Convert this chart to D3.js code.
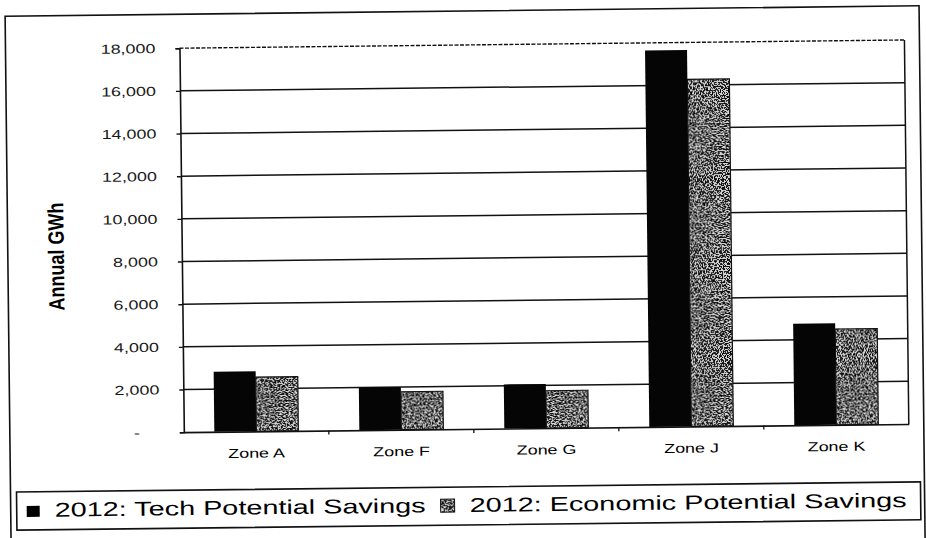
<!DOCTYPE html>
<html>
<head>
<meta charset="utf-8">
<script src="https://cdn.jsdelivr.net/npm/d3@7"></script>
<style>
  html, body { margin: 0; padding: 0; background: #fff; }
  svg { display: block; }
</style>
</head>
<body>
<svg id="chart" width="926" height="538"></svg>
<script>
// Annual GWh savings by zone
const categories = ["Zone A", "Zone F", "Zone G", "Zone J", "Zone K"];
const techSavings = [2820, 2000, 2070, 17650, 4760];
const econSavings = [2540, 1780, 1750, 16270, 4490];
const yTicks = [0, 2000, 4000, 6000, 8000, 10000, 12000, 14000, 16000, 18000];
const yTickLabels = ["-", "2,000", "4,000", "6,000", "8,000", "10,000", "12,000", "14,000", "16,000", "18,000"];
const seriesNames = ["2012: Tech Potential Savings", "2012: Economic Potential Savings"];
const yTitle = "Annual GWh";

const W = 926, H = 538;
const plot = { left: 182, right: 907, top: 45, bottom: 429 };
const WIDEN = 1.38;            // horizontal widening of all type
const FONT = "Liberation Sans, Arial, Helvetica, sans-serif";

// widen each glyph run horizontally, keeping its anchor
function widen(sel, k) {
  sel.each(function () {
    const w = this.getComputedTextLength();
    d3.select(this).attr("textLength", w * k).attr("lengthAdjust", "spacingAndGlyphs");
  });
}

const svg = d3.select("#chart");

// speckled fill for the economic series
const defs = svg.append("defs");
const f = defs.append("filter").attr("id", "speckle")
  .attr("x", 0).attr("y", 0).attr("width", 1).attr("height", 1);
f.append("feTurbulence").attr("type", "fractalNoise")
  .attr("baseFrequency", 0.75).attr("numOctaves", 1).attr("seed", 7).attr("result", "noise");
f.append("feColorMatrix").attr("in", "noise").attr("type", "matrix")
  .attr("values", "0 0 0 0 0  0 0 0 0 0  0 0 0 0 0  1 0 0 0 0").attr("result", "mask");
const ct = f.append("feComponentTransfer").attr("in", "mask").attr("result", "dots");
ct.append("feFuncA").attr("type", "discrete").attr("tableValues", "0 0 0 0 0 0.85 1 1 1 1");
f.append("feComposite").attr("in", "dots").attr("in2", "SourceAlpha").attr("operator", "in");

const g = svg.append("g").attr("transform", `rotate(-0.65 ${W / 2} ${H / 2})`);

// outer page frame
g.append("rect")
  .attr("x", 8).attr("y", 11).attr("width", 914).attr("height", 535)
  .attr("fill", "none").attr("stroke", "#111").attr("stroke-width", 1.6);

const x = d3.scaleBand().domain(categories).range([plot.left, plot.right]);
const bw = x.bandwidth();
const xs = d3.scaleBand().domain([0, 1]).range([bw / 2 - 42, bw / 2 + 42]);
const y = d3.scaleLinear().domain([0, 18000]).range([plot.bottom, plot.top]);

// horizontal grid lines
g.append("g").selectAll("line")
  .data(yTicks.filter(d => d > 0))
  .join("line")
  .attr("x1", plot.left).attr("x2", plot.right)
  .attr("y1", d => y(d)).attr("y2", d => y(d))
  .attr("stroke", "#111")
  .attr("stroke-width", d => d === 18000 ? 1.4 : 1.5)
  .attr("stroke-dasharray", d => d === 18000 ? "4 1.5" : null);

// right border of the plot area
g.append("line")
  .attr("x1", plot.right).attr("x2", plot.right)
  .attr("y1", plot.top).attr("y2", plot.bottom)
  .attr("stroke", "#111").attr("stroke-width", 1.5);

// bars
const groups = g.append("g").selectAll("g")
  .data(categories)
  .join("g")
  .attr("transform", d => `translate(${x(d)},0)`);

groups.append("rect")
  .attr("x", xs(0)).attr("width", xs.bandwidth())
  .attr("y", (d, i) => y(techSavings[i]))
  .attr("height", (d, i) => y(0) - y(techSavings[i]))
  .attr("fill", "#050505");

groups.append("rect")
  .attr("x", xs(1)).attr("width", xs.bandwidth())
  .attr("y", (d, i) => y(econSavings[i]))
  .attr("height", (d, i) => y(0) - y(econSavings[i]))
  .attr("fill", "#d6d6d6");
groups.append("rect")
  .attr("x", xs(1)).attr("width", xs.bandwidth())
  .attr("y", (d, i) => y(econSavings[i]))
  .attr("height", (d, i) => y(0) - y(econSavings[i]))
  .attr("fill", "#000").attr("filter", "url(#speckle)");
groups.append("rect")
  .attr("x", xs(1)).attr("width", xs.bandwidth())
  .attr("y", (d, i) => y(econSavings[i]))
  .attr("height", (d, i) => y(0) - y(econSavings[i]))
  .attr("fill", "none").attr("stroke", "#111").attr("stroke-width", 1.2);

// y axis
const yAxis = g.append("g")
  .attr("transform", `translate(${plot.left},0)`)
  .call(d3.axisLeft(y).tickValues(yTicks)
    .tickFormat((d, i) => yTickLabels[i]).tickSize(4).tickPadding(20));
yAxis.select(".domain").attr("stroke", "#111").attr("stroke-width", 1.6);
yAxis.selectAll(".tick line").attr("stroke", "#111").attr("stroke-width", 1.4);
const yLabels = yAxis.selectAll(".tick text")
  .attr("font-family", FONT)
  .attr("font-size", 13)
  .attr("fill", "#1a1a1a");
yLabels.filter(d => d === 0).attr("dx", -20);
widen(yLabels, WIDEN);

// x axis
const xAxis = g.append("g")
  .attr("transform", `translate(0,${plot.bottom})`)
  .call(d3.axisBottom(x).tickSize(0).tickPadding(17));
xAxis.select(".domain").attr("stroke", "#111").attr("stroke-width", 1.6);
const xLabels = xAxis.selectAll(".tick text")
  .attr("font-family", FONT)
  .attr("font-size", 13)
  .attr("fill", "#000");
widen(xLabels, WIDEN);
g.append("g").selectAll("line")
  .data(categories.slice(1))
  .join("line")
  .attr("x1", d => x(d)).attr("x2", d => x(d))
  .attr("y1", plot.bottom).attr("y2", plot.bottom + 4)
  .attr("stroke", "#111").attr("stroke-width", 1.3);

// y axis title (glyph height widened along the page's horizontal)
g.append("text")
  .attr("transform", `translate(64,252) rotate(-90) scale(1,${WIDEN})`)
  .attr("text-anchor", "middle")
  .attr("font-family", FONT)
  .attr("font-weight", "bold")
  .attr("font-size", 16)
  .attr("textLength", 108)
  .attr("lengthAdjust", "spacingAndGlyphs")
  .attr("fill", "#000")
  .text(yTitle);

// legend
const LEG_WIDEN = 1.44;
const lg = g.append("g");
lg.append("rect")
  .attr("x", 14).attr("y", 487).attr("width", 904).attr("height", 38)
  .attr("fill", "#fff").attr("stroke", "#111").attr("stroke-width", 1.6);
lg.append("rect")
  .attr("x", 24).attr("y", 501).attr("width", 13).attr("height", 11)
  .attr("fill", "#000");
const lt1 = lg.append("text")
  .attr("x", 52).attr("y", 512)
  .attr("font-family", FONT)
  .attr("font-size", 20)
  .attr("fill", "#000")
  .text(seriesNames[0]);
const lt1w = lt1.node().getComputedTextLength() * LEG_WIDEN;
lt1.attr("textLength", lt1w).attr("lengthAdjust", "spacingAndGlyphs");
const iconX = 52 + lt1w + 15;
lg.append("rect")
  .attr("x", iconX).attr("y", 499).attr("width", 14).attr("height", 13)
  .attr("fill", "#d6d6d6");
lg.append("rect")
  .attr("x", iconX).attr("y", 499).attr("width", 14).attr("height", 13)
  .attr("fill", "#000").attr("filter", "url(#speckle)");
lg.append("rect")
  .attr("x", iconX).attr("y", 499).attr("width", 14).attr("height", 13)
  .attr("fill", "none").attr("stroke", "#111").attr("stroke-width", 1);
const lt2 = lg.append("text")
  .attr("x", iconX + 29).attr("y", 512)
  .attr("font-family", FONT)
  .attr("font-size", 20)
  .attr("fill", "#000")
  .text(seriesNames[1]);
widen(lt2, LEG_WIDEN);
</script>
</body>
</html>
